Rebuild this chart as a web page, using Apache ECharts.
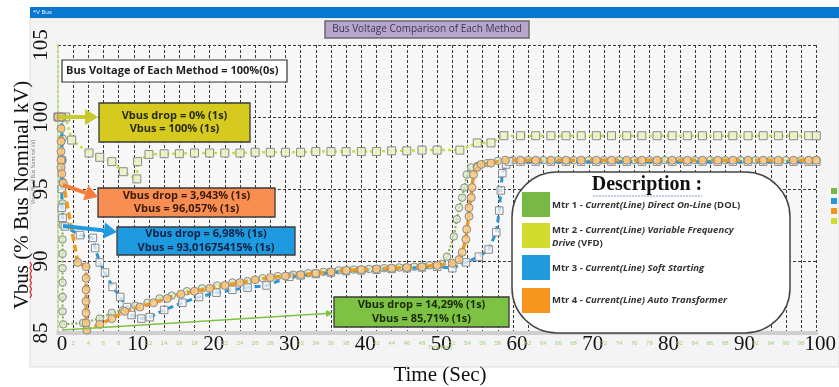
<!DOCTYPE html>
<html>
<head>
<meta charset="utf-8">
<script src="https://cdn.jsdelivr.net/npm/echarts@6/dist/echarts.min.js"></script>
<style>html,body{margin:0;padding:0;background:#fff}#c{width:839px;height:387px}</style>
</head>
<body>
<div id="c"></div>
<script>
// ---------- DATA ----------
const seriesNames = ['Mtr 1 - DOL', 'Mtr 2 - VFD', 'Mtr 3 - Soft Starting', 'Mtr 4 - Auto Transformer'];

const pointsDOL = [[0,100],[0.6,100],[0.6,98.5],[0.6,97],[0.6,95.5],[0.6,94],[0.6,92.5],[0.6,91.5],[0.6,90.5],[0.6,89.5],[0.6,88.5],[0.6,87.5],[0.6,86.5],[0.7,85.6],
  [3.3,85.7],[5.5,86.0],[7.1,86.4],[8.6,86.6],[10.2,86.9],[11.8,87.1],[13.4,87.4],[15,87.6],[17,87.9],[19,88.1],[21,88.3],[23,88.5],[25,88.6],[27,88.8],[29,88.95],
  [31,89.05],[33,89.15],[35,89.25],[37,89.35],[39,89.4],[41,89.45],[43,89.5],[45,89.55],[47,89.6],[49,89.7],[50.6,89.8],
  [51.3,90.3],[52.2,91.7],[52.6,92.9],[52.9,93.7],[53.3,94.4],[53.6,95.1],[53.9,96.0],[54.5,96.5],[55.3,96.6],[56.6,96.8],[58,96.95],
  [60,97],[62,97],[64,97],[66,97],[68,97],[70,97],[72,97],[74,97],[76,97],[78,97],[80,97],[82,97],[84,97],[86,97],[88,97],[90,97],[92,97],[94,97],[96,97],[98,97],[100,97]];

const pointsVFD = [[0,100],[1,100],[1.8,98.4],[4.1,97.5],[5.5,97.2],[7.1,96.9],[8.6,96.2],[10.4,95.7],[10.5,96.9],[12,97.4],[14,97.45],[16,97.45],[18,97.5],[20,97.5],
  [22,97.5],[24,97.5],[26,97.55],[28,97.55],[30,97.55],[32,97.55],[34,97.6],[36,97.6],[38,97.6],[40,97.6],[42,97.6],[44,97.65],[46,97.65],[48,97.7],[50,97.7],[53,97.7],
  [55.3,98.2],[57.1,98.2],[58.8,98.7],[61,98.7],[63,98.7],[65,98.7],[67,98.7],[69,98.7],[71,98.7],[73,98.7],[75,98.7],[77,98.7],[79,98.7],[81,98.7],[83,98.7],
  [85,98.7],[87,98.7],[89,98.7],[91,98.7],[93,98.7],[95,98.7],[97,98.7],[99,98.7],[100,98.7]];

const pointsSS = [[0,100],[0.5,100],[0.5,97],[0.5,95],[0.5,93.7],[0.6,93.0],[0.9,92.4],[2.9,91.8],[4.6,91.6],[4.9,90.9],[5.5,89.9],[6.2,89.2],[7.2,88.2],[8.2,87.5],
  [9.1,86.8],[9.7,86.25],[11,86.0],[12.1,86.1],[14,86.6],[16.4,87.1],[18.6,87.5],[20.9,87.8],[23,88.0],[25,88.15],[27.5,88.3],[30.5,88.9],[32,89.0],[34,89.1],
  [36,89.2],[38,89.3],[40,89.35],[42,89.4],[44,89.45],[46,89.5],[48,89.55],[50,89.6],[52,89.5],[53.8,89.9],[55.5,90.3],[56.8,90.8],[57.8,92.0],[58.2,93.5],
  [58.4,94.9],[58.6,96.1],[59.1,96.7],[59.5,96.9],[61,96.9],[63,96.9],[65,96.9],[67,96.9],[69,96.9],[71,96.9],[73,96.9],[75,96.9],[77,96.9],[79,96.9],[81,96.9],
  [83,96.9],[85,96.9],[87,96.9],[89,96.9],[91,96.9],[93,96.9],[95,96.9],[97,96.9],[99,96.9],[100,96.9]];

const pointsAT = [[0,100],[0.4,100],[0.4,99.2],[0.4,98.3],[0.4,97.6],[0.4,97.0],[0.4,96.5],[0.5,96.06],[0.7,95.4],[2.6,89.9],[3.7,89.6],[3.7,88.8],[3.7,88.0],
  [3.7,87.2],[3.7,86.4],[3.7,85.7],[3.8,85.2],[5.5,85.6],[7.1,86.0],[8.8,86.5],[10.8,86.8],[12.6,87.1],[14.4,87.4],[16.2,87.7],[18,87.9],[20,88.1],[22,88.3],
  [24,88.5],[26,88.7],[28,88.85],[30,88.95],[32,89.05],[34,89.15],[36,89.25],[38,89.35],[40,89.4],[42,89.45],[44,89.5],[46,89.55],[48,89.6],[50,89.7],[52,89.85],
  [52.9,90.1],[53.3,90.6],[53.8,91.5],[53.9,92.2],[54.2,93.1],[54.2,93.7],[54.5,94.4],[54.6,95.1],[54.8,96.0],[55.3,96.5],[55.8,96.7],[57.1,96.8],[59,97.0],
  [61,97],[63,97],[65,97],[67,97],[69,97],[71,97],[73,97],[75,97],[77,97],[79,97],[81,97],[83,97],[85,97],[87,97],[89,97],[91,97],[93,97],[95,97],[97,97],[99,97],[100,97]];

const xMajorTicks = [0,10,20,30,40,50,60,70,80,90,100];
const yTicks = [85,90,95,100,105];

const titleText = 'Bus Voltage Comparison of Each Method';
const yTitle = 'Vbus (% Bus Nominal kV)';
const xTitle = 'Time (Sec)';
const noteTop = 'Bus Voltage of Each Method = 100%(0s)';
const noteVFD = ['Vbus drop = 0% (1s)', 'Vbus = 100% (1s)'];
const noteAT = ['Vbus drop = 3,943% (1s)', 'Vbus = 96,057% (1s)'];
const noteSS = ['Vbus drop = 6,98% (1s)', 'Vbus = 93,01675415% (1s)'];
const noteDOL = ['Vbus drop = 14,29% (1s)', 'Vbus = 85,71% (1s)'];

// ---------- CHART ----------
const chart = echarts.init(document.getElementById('c'), null, {renderer:'canvas'});
const SERIF = 'Liberation Serif';
const SANS = 'Open Sans';
const cGreen = '#7cb342', cLime = '#cddc39', cBlue = '#2b95d6', cOrange = '#f39a1e';

function arrow(x1,y1,x2,y2,color,w,hl,hw){
  const len = Math.hypot(x2-x1,y2-y1), dx=(x2-x1)/len, dy=(y2-y1)/len;
  const bx = x2-dx*hl, by = y2-dy*hl, px=-dy, py=dx;
  return [
    {type:'line', z:100, shape:{x1:x1,y1:y1,x2:bx,y2:by}, style:{stroke:color,lineWidth:w}},
    {type:'polygon', z:100, shape:{points:[[x2,y2],[bx+px*hw,by+py*hw],[bx-px*hw,by-py*hw]]}, style:{fill:color}}
  ];
}
function box(x,y,w,h,fill,lines,tcolor,fs){
  return [
    {type:'rect', z:100, shape:{x:x,y:y,width:w,height:h}, style:{fill:fill,stroke:'#3a3a3a',lineWidth:1.3}},
    {type:'text', z:101, x:x+w/2, y:y+h/2, style:{text:lines.join('\n'), fill:tcolor, font:'bold '+fs+'px "'+SANS+'"', align:'center', verticalAlign:'middle', lineHeight:13.5}}
  ];
}

const graphics = [
  {type:'rect', z:-100, shape:{x:30,y:18,width:809,height:349}, style:{fill:'#f4f4f4',stroke:'#dcdcdc',lineWidth:1}},
  {type:'rect', z:-99, shape:{x:30,y:7,width:809,height:11}, style:{fill:'#0877cf'}},
  {type:'text', z:-98, x:33, y:12.5, style:{text:'*V Bus', fill:'#fff', font:'6px "'+SANS+'"', verticalAlign:'middle'}},
  {type:'rect', z:100, shape:{x:325,y:21,width:204,height:17}, style:{fill:'#b7a5cd',stroke:'#6a6a6a',lineWidth:1.5}},
  {type:'text', z:101, x:427, y:29.5, style:{text:titleText, fill:'#3a3848', font:'10px "'+SANS+'"', align:'center', verticalAlign:'middle'}},
  {type:'text', z:101, x:22, y:195, rotation:Math.PI/2, style:{text:yTitle, fill:'#111', font:'21px "'+SERIF+'"', align:'center', verticalAlign:'middle'}},
  {type:'polyline', z:101, shape:{points:[[30,262],[31.5,265],[30,268],[31.5,271],[30,274],[31.5,277],[30,280],[31.5,283],[30,286],[31.5,289],[30,292],[31.5,295],[30,298]]}, style:{stroke:'#d8262a',lineWidth:1.2,fill:null}},
  {type:'text', z:101, x:34, y:172, rotation:Math.PI/2, style:{text:'Vbus (% of Bus Nominal kV)', fill:'#777', font:'5px "'+SANS+'"', align:'center', verticalAlign:'middle'}},
  {type:'text', z:101, x:440, y:375, style:{text:xTitle, fill:'#111', font:'21px "'+SERIF+'"', align:'center', verticalAlign:'middle'}},
  {type:'text', z:101, x:440, y:348, style:{text:'Time (Sec)', fill:'#9ccc65', font:'5px "'+SANS+'"', align:'center', verticalAlign:'middle'}},
  {type:'rect', z:100, shape:{x:62,y:60,width:225,height:22}, style:{fill:'#fff',stroke:'#333',lineWidth:1.2}},
  {type:'text', z:101, x:66, y:71, style:{text:noteTop, fill:'#222', font:'bold 11px "'+SANS+'"', verticalAlign:'middle'}},
  ...box(99,103,151,39,'#d6ca1f',noteVFD,'#2a2a10',11),
  ...box(98,188,177,29,'#f98e52',noteAT,'#3a1a08',11),
  ...box(117,227,178,28,'#1e9be0',noteSS,'#102040',11),
  ...box(334,297,175,30,'#7dc243',noteDOL,'#1a2a08',11),
  ...arrow(58,117,98,117,'#c8c92a',4,13,8),
  ...arrow(63,185,98,197,'#f47c3c',4,13,8),
  ...arrow(63,226,117,232,'#1f9ae0',4,13,8),
  ...arrow(62,330,333,313,'#7dc243',1.6,7,3.5),
  {type:'rect', z:100, shape:{x:512,y:172,width:278,height:161,r:45}, style:{fill:'#fff',stroke:'#444',lineWidth:1.5}},
  {type:'text', z:101, x:647, y:185, style:{text:'Description :', fill:'#111', font:'bold 20px "'+SERIF+'"', align:'center', verticalAlign:'middle'}},
  {type:'line', z:101, shape:{x1:593,y1:196,x2:702,y2:196}, style:{stroke:'#7b9fd8',lineWidth:1,lineDash:[2,1]}},
  {type:'rect', z:101, shape:{x:522,y:192,width:28,height:25}, style:{fill:'#78b845'}},
  {type:'rect', z:101, shape:{x:522,y:223,width:28,height:25}, style:{fill:'#d2dc2c'}},
  {type:'rect', z:101, shape:{x:522,y:255,width:28,height:25}, style:{fill:'#2299dd'}},
  {type:'rect', z:101, shape:{x:522,y:288,width:28,height:25}, style:{fill:'#f7941d'}}
];
const rich = {a:{font:'bold 9.5px "'+SANS+'"', fill:'#333'}, b:{font:'italic bold 9.5px "'+SANS+'"', fill:'#333'}};
const legendLines = [
  [205,'{a|Mtr 1 - }{b|Current(Line) Direct On-Line}{a| (DOL)}'],
  [230,'{a|Mtr 2 - }{b|Current(Line) Variable Frequency}'],
  [243,'{b|Drive}{a| (VFD)}'],
  [268,'{a|Mtr 3 - }{b|Current(Line) Soft Starting}'],
  [300,'{a|Mtr 4 - }{b|Current(Line) Auto Transformer}']
];
legendLines.forEach(l => graphics.push({type:'text', z:101, x:552, y:l[0], style:{text:l[1], rich:rich, verticalAlign:'middle', font:'bold 9.5px "'+SANS+'"', fill:'#333'}}));

const markerBorder = '#8a8a8a';
const option = {
  backgroundColor:'#ffffff',
  animation:false,
  grid:{left:58,right:21,top:45,bottom:54,show:true,backgroundColor:'#f7f7f7',borderWidth:0},
  legend:{
    orient:'vertical', left:826, top:183, itemWidth:6, itemHeight:6, itemGap:4,
    textStyle:{fontSize:6, lineHeight:6, color:'#999'},
    data:[
      {name:seriesNames[0], icon:'rect', itemStyle:{color:'#78b845',borderWidth:0}},
      {name:seriesNames[2], icon:'rect', itemStyle:{color:'#2299dd',borderWidth:0}},
      {name:seriesNames[3], icon:'rect', itemStyle:{color:'#f7941d',borderWidth:0}},
      {name:seriesNames[1], icon:'rect', itemStyle:{color:'#d2dc2c',borderWidth:0}}
    ]
  },
  xAxis:[
    {type:'value', min:0, max:100, interval:10,
     axisLine:{show:true, lineStyle:{color:'#cfcfcf', width:4}},
     axisTick:{show:false}, splitLine:{show:false},
     axisLabel:{fontFamily:SERIF, fontSize:21, color:'#111', margin:1, padding:[0,0,0,8],
       formatter:v => xMajorTicks.indexOf(v) >= 0 ? String(v) : ''}},
    {type:'value', min:0, max:100, interval:2, position:'bottom',
     axisLine:{show:false}, axisTick:{show:false},
     splitLine:{show:true, showMinLine:false, lineStyle:{color:'#3a3a3a', type:[3,2], width:1}},
     axisLabel:{fontSize:6, color:'#a5d07a', margin:7, formatter:v => (v % 10 === 0) ? '' : String(v)}}
  ],
  yAxis:{type:'value', min:85, max:105, interval:5,
    axisLine:{show:true, lineStyle:{color:'#a8cf6a', type:[3,2], width:1.5}},
    axisTick:{show:false},
    splitLine:{show:true, lineStyle:{color:'#3a3a3a', type:[3,2], width:1}},
    axisLabel:{rotate:90, fontFamily:SERIF, fontSize:21, color:'#111', margin:6,
      formatter:v => yTicks.indexOf(v) >= 0 ? String(v) : ''}},
  series:[
    {name:seriesNames[1], type:'line', xAxisIndex:0, data:pointsVFD, z:3,
     lineStyle:{color:cLime, width:2.5, type:[3,3]}, symbol:'rect', symbolSize:8,
     itemStyle:{color:'rgba(236,242,200,0.9)', borderColor:markerBorder, borderWidth:1}},
    {name:seriesNames[0], type:'line', xAxisIndex:0, data:pointsDOL, z:4,
     lineStyle:{color:cGreen, width:2, type:[2,2]}, symbol:'circle', symbolSize:7.5,
     itemStyle:{color:'rgba(214,236,196,0.75)', borderColor:markerBorder, borderWidth:1}},
    {name:seriesNames[2], type:'line', xAxisIndex:0, data:pointsSS, z:5,
     lineStyle:{color:cBlue, width:3, type:[6,4]}, symbol:'rect', symbolSize:7.5,
     itemStyle:{color:'rgba(245,248,252,0.75)', borderColor:markerBorder, borderWidth:1}},
    {name:seriesNames[3], type:'line', xAxisIndex:0, data:pointsAT, z:6,
     lineStyle:{color:cOrange, width:3.5, type:[7,4]}, symbol:'circle', symbolSize:8,
     itemStyle:{color:'rgba(250,200,130,0.85)', borderColor:markerBorder, borderWidth:1}}
  ],
  graphic:graphics
};
chart.setOption(option);
</script>
</body>
</html>
